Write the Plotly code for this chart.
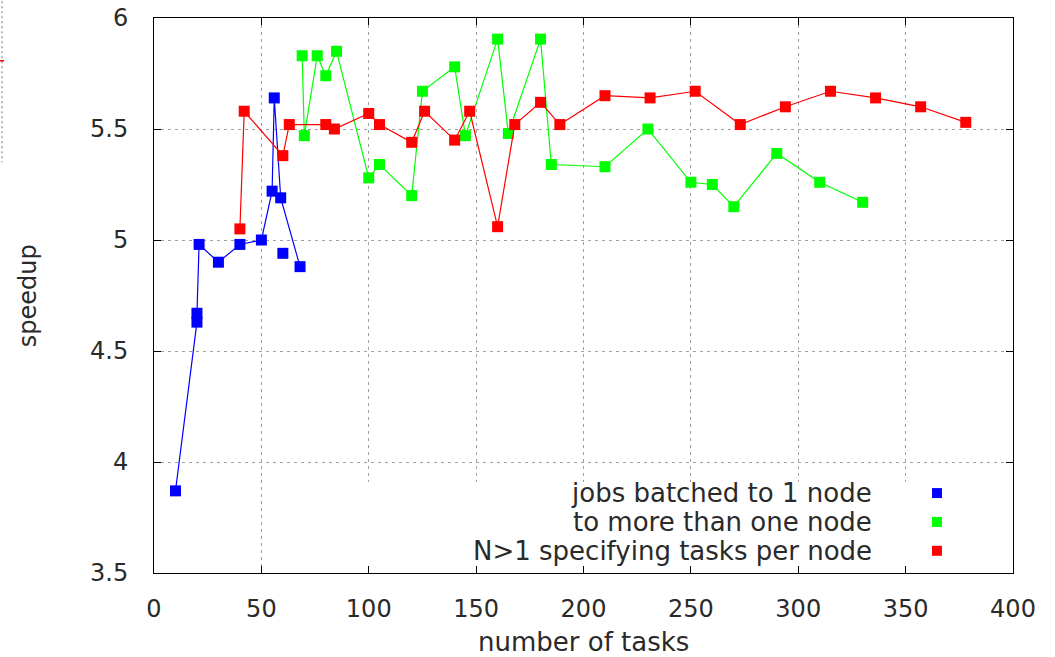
import plotly.graph_objects as go

# ---- data ----
blue_x = [10, 20, 20, 21, 30, 40, 50, 55, 56, 59, 68, None, 60]
blue_y = [3.87, 4.63, 4.67, 4.98, 4.90, 4.98, 5.00, 5.22, 5.64, 5.19, 4.88, None, 4.94]

green_x = [69, 70, 76, 80, 85, 100, 105, 120, 125, 140, 145, 160, 165, 180, 185,
           210, 230, 250, 260, 270, 290, 310, 330]
green_y = [5.83, 5.47, 5.83, 5.74, 5.85, 5.28, 5.34, 5.20, 5.67, 5.78, 5.47, 5.905, 5.48, 5.905, 5.34,
           5.33, 5.50, 5.26, 5.25, 5.15, 5.39, 5.26, 5.17]

red_x = [40, 42, 60, 63, 80, 84, 100, 105, 120, 126, 140, 147, 160, 168, 180, 189,
         210, 231, 252, 273, 294, 315, 336, 357, 378]
red_y = [5.05, 5.58, 5.38, 5.52, 5.52, 5.50, 5.57, 5.52, 5.44, 5.58, 5.45, 5.58, 5.06, 5.52, 5.62, 5.52,
         5.65, 5.64, 5.67, 5.52, 5.60, 5.67, 5.64, 5.60, 5.53]

series_names = ["jobs batched to 1 node", "to more than one node", "N>1 specifying tasks per node"]
series_colors = ["#0000ff", "#00ff00", "#ff0000"]

x_ticks = [0, 50, 100, 150, 200, 250, 300, 350, 400]
y_ticks = [3.5, 4, 4.5, 5, 5.5, 6]
y_tick_text = ["3.5", "4", "4.5", "5", "5.5", "6"]

FONT = "DejaVu Sans"
TXT = "#2a2a2a"

fig = go.Figure()
for xs, ys, name, col in zip([blue_x, green_x, red_x], [blue_y, green_y, red_y], series_names, series_colors):
    fig.add_trace(go.Scatter(
        x=xs, y=ys, name=name, mode="lines+markers",
        line=dict(color=col, width=1.2),
        marker=dict(symbol="square", size=11, color=col, line=dict(width=0)),
        connectgaps=False, showlegend=False,
    ))

axis_common = dict(
    showline=True, linecolor="black", linewidth=1, mirror="ticks",
    ticks="inside", ticklen=7, tickcolor="black", tickwidth=1,
    showgrid=True, gridcolor="#a0a0a0", gridwidth=1, griddash="3px,4px",
    zeroline=False, automargin=False,
    tickfont=dict(family=FONT, size=24, color=TXT),
)

fig.update_xaxes(range=[0, 400], tickvals=x_ticks, ticklabelstandoff=14, **axis_common)
fig.update_yaxes(range=[3.5, 6], tickvals=y_ticks, ticktext=y_tick_text, ticklabelstandoff=20, **axis_common)

shapes = []
# legend box background blanking the grid
shapes.append(dict(type="rect", xref="x", yref="y", x0=63, x1=399.5, y0=3.502, y1=3.91,
                   fillcolor="white", line=dict(width=0), layer="between"))
# legend markers + texts
leg_y = [0.144, 0.092, 0.040]
annotations = []
for name, col, yy in zip(series_names, series_colors, leg_y):
    shapes.append(dict(type="rect", xref="paper", yref="paper",
                       x0=0.9115 - 0.0058, x1=0.9115 + 0.0058, y0=yy - 0.009, y1=yy + 0.009,
                       fillcolor=col, line=dict(width=0), layer="above"))
    annotations.append(dict(text=name, xref="paper", yref="paper", x=(874 - 154) / 859, y=yy,
                            xanchor="right", yanchor="middle", showarrow=False,
                            font=dict(family=FONT, size=26, color=TXT)))

# remnant of neighbouring graphic at the left edge
shapes.append(dict(type="line", xref="paper", yref="paper", x0=-0.177, x1=-0.177, y0=1.03, y1=0.74,
                   line=dict(color="#a0a0a0", width=1.5, dash="2px,3px")))
shapes.append(dict(type="line", xref="paper", yref="paper", x0=-0.1795, x1=-0.1745, y0=0.923, y1=0.923,
                   line=dict(color="#ff0000", width=1.5)))

annotations.append(dict(text="number of tasks", xref="paper", yref="paper", x=0.5, y=-0.125,
                        xanchor="center", yanchor="middle", showarrow=False,
                        font=dict(family=FONT, size=26, color=TXT)))
annotations.append(dict(text="speedup", xref="paper", yref="paper", x=-0.147, y=0.5,
                        xanchor="center", yanchor="middle", showarrow=False, textangle=-90,
                        font=dict(family=FONT, size=24, color=TXT)))

fig.update_layout(
    width=1055, height=657,
    margin=dict(l=154, r=42, t=18, b=84, autoexpand=False),
    paper_bgcolor="white", plot_bgcolor="white",
    shapes=shapes, annotations=annotations,
    showlegend=False,
)

fig.write_html("out.html", config={"displayModeBar": False},
               post_script="document.body.style.margin='0';document.body.style.overflow='hidden';")
